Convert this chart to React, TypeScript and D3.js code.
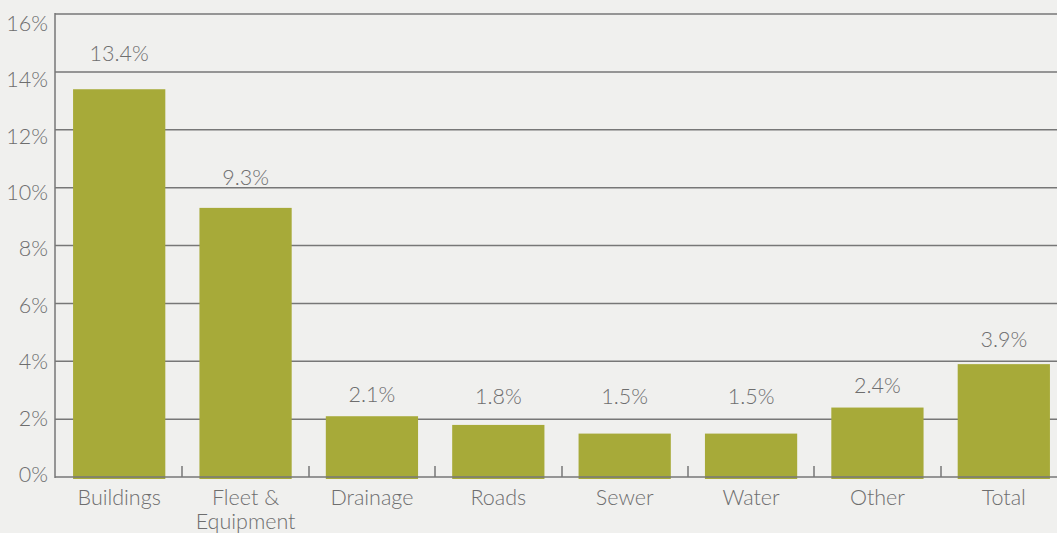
import React from "react";
import * as d3 from "d3";

const categories: string[][] = [["Buildings"], ["Fleet &", "Equipment"], ["Drainage"], ["Roads"], ["Sewer"], ["Water"], ["Other"], ["Total"]];
const values: number[] = [13.4, 9.3, 2.1, 1.8, 1.5, 1.5, 2.4, 3.9];
const yTicks: number[] = [0, 2, 4, 6, 8, 10, 12, 14, 16];

const W = 1057;
const H = 533;
const FONT = "Lato, 'Open Sans', sans-serif";
const TXT = "#6e6e6e";
const FS = 21.5;

export default function App() {
  const x = d3.scaleBand<number>().domain(d3.range(values.length)).range([56, 1067]).paddingInner(0.27).paddingOuter(0.135);
  const y = d3.scaleLinear().domain([0, 16]).range([477, 14]);
  const yLab = d3.scaleLinear().domain([0, 16]).range([474.5, 23]);
  const step = x.step();
  const bw = x.bandwidth();
  const labelY = (v: number) => Math.min(y(v) - (12 + 1.2 * v), y(2) - 15);
  return (
    <svg width={W} height={H} style={{ position: "absolute", left: 0, top: 0, background: "#f0f0ee" }}>
      <rect x={0} y={0} width={W} height={H} fill="#f0f0ee" />
      {yTicks.map((t) => (
        <g key={t}>
          {t > 0 && <line x1={55} x2={W} y1={y(t)} y2={y(t)} stroke="#777777" strokeWidth={1.5} />}
          <text x={48} y={yLab(t)} dy="0.36em" textAnchor="end" fontFamily={FONT} fontWeight={300} fontSize={FS} fill={TXT}>{t}%</text>
        </g>
      ))}
      {values.map((v, i) => (
        <g key={i}>
          <rect x={x(i)!} y={y(v)} width={bw} height={y(0) - y(v) + 2} fill="#a7aa39" />
          <text x={x(i)! + bw / 2} y={labelY(v)} textAnchor="middle" fontFamily={FONT} fontWeight={300} fontSize={FS} fill={TXT}>{v.toFixed(1)}%</text>
          {categories[i].map((line, j) => (
            <text key={j} x={x(i)! + bw / 2} y={505 + j * 24} textAnchor="middle" fontFamily={FONT} fontWeight={300} fontSize={FS} fill={TXT}>{line}</text>
          ))}
        </g>
      ))}
      <line x1={55} x2={W} y1={y(0)} y2={y(0)} stroke="#777777" strokeWidth={1.5} />
      <line x1={55} x2={55} y1={y(16) - 1} y2={y(0) + 1} stroke="#777777" strokeWidth={1.5} />
      {d3.range(1, values.length).map((i) => {
        const bx = Math.round(x(i)! - (step - bw) / 2);
        return <line key={i} x1={bx} x2={bx} y1={y(0) - 11} y2={y(0)} stroke="#777777" strokeWidth={1.5} />;
      })}
    </svg>
  );
}
